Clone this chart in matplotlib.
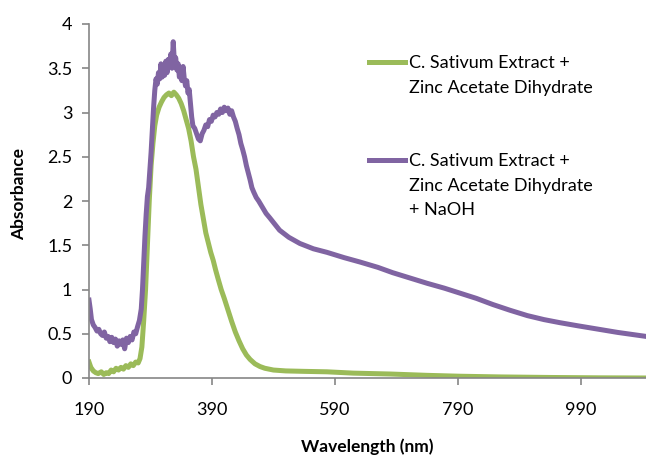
import matplotlib
matplotlib.use("Agg")
import matplotlib.pyplot as plt
from matplotlib.lines import Line2D

plt.rcParams['font.family'] = ['Lato', 'DejaVu Sans']

# green series: C. Sativum Extract + Zinc Acetate Dihydrate
wl_green = [190, 193, 197, 201, 205, 210, 214, 218, 222, 226, 230, 234, 238, 242,
            246, 250, 254, 258, 262, 266, 270, 273, 276, 279, 282, 285, 288, 291,
            294, 297, 300, 304, 308, 312, 316, 320, 324, 328, 332, 336, 340, 344,
            348, 352, 356, 360, 364, 368, 372, 376, 380, 384, 388, 392, 396, 400,
            405, 410, 416, 422, 428, 434, 440, 446, 452, 460, 468, 476, 490, 510,
            540, 577, 620, 680, 740, 793, 860, 940, 1020, 1096]
abs_green = [0.18, 0.12, 0.08, 0.06, 0.05, 0.07, 0.04, 0.06, 0.05, 0.09, 0.07, 0.11, 0.09, 0.12,
             0.10, 0.14, 0.12, 0.16, 0.14, 0.18, 0.17, 0.22, 0.35, 0.65, 1.0, 1.5, 2.0, 2.4,
             2.65, 2.85, 2.97, 3.06, 3.12, 3.17, 3.2, 3.22, 3.19, 3.23, 3.2, 3.16, 3.1, 3.02,
             2.92, 2.82, 2.68, 2.5, 2.36, 2.16, 1.96, 1.8, 1.64, 1.53, 1.42, 1.33, 1.22, 1.12,
             1.0, 0.9, 0.77, 0.64, 0.52, 0.42, 0.33, 0.26, 0.21, 0.16, 0.13, 0.11, 0.09, 0.08,
             0.075, 0.07, 0.055, 0.045, 0.03, 0.02, 0.012, 0.006, 0.002, 0.0]

# purple series: C. Sativum Extract + Zinc Acetate Dihydrate + NaOH
wl_purple = [190, 192, 194, 197, 200, 203, 206, 209, 212, 215, 218, 221, 224, 227,
             230, 233, 236, 239, 242, 245, 248, 251, 254, 257, 260, 263, 266, 269,
             272, 275, 277, 279, 281, 283, 285, 287, 289, 291, 293, 295, 297, 299,
             301, 303, 305, 307, 309, 311, 313, 315, 317, 319, 321, 323, 325, 327,
             329, 331, 333, 335, 337, 339, 341, 343, 345, 347, 349, 351, 353, 355,
             357, 359, 362, 365, 368, 371, 374, 377, 380, 383, 386, 389, 392, 395,
             398, 401, 404, 407, 410, 413, 416, 419, 422, 425, 428, 431, 434, 437,
             440, 443, 446, 449, 452, 455, 458, 462, 466, 472, 478, 484, 492, 500,
             515, 533, 555, 577, 605, 631, 660, 684, 712, 740, 768, 793, 820, 847,
             875, 903, 930, 956, 985, 1011, 1050, 1096]
abs_purple = [0.88, 0.78, 0.66, 0.6, 0.57, 0.53, 0.55, 0.5, 0.48, 0.52, 0.45, 0.47, 0.41, 0.46,
              0.40, 0.44, 0.36, 0.42, 0.38, 0.43, 0.33, 0.45, 0.40, 0.47, 0.43, 0.52, 0.5, 0.58,
              0.65, 0.78, 1.0, 1.3, 1.6, 1.85, 2.05, 2.15, 2.35, 2.55, 2.8, 3.05, 3.25, 3.38,
              3.32, 3.45, 3.38, 3.55, 3.4, 3.5, 3.42, 3.58, 3.45, 3.6, 3.52, 3.66, 3.5, 3.8,
              3.55, 3.62, 3.48, 3.55, 3.4, 3.48, 3.36, 3.52, 3.38, 3.3, 3.36, 3.22, 3.26, 3.1,
              2.95, 2.85, 2.82, 2.76, 2.7, 2.68, 2.76, 2.8, 2.86, 2.84, 2.92, 2.9, 2.97, 2.95,
              3.0, 2.98, 3.04, 3.0, 3.06, 3.02, 3.05, 2.98, 3.02, 2.95, 2.9, 2.82, 2.75, 2.65,
              2.58, 2.5, 2.4, 2.32, 2.24, 2.15, 2.1, 2.04, 2.0, 1.93, 1.86, 1.81, 1.74, 1.67,
              1.59, 1.52, 1.46, 1.42, 1.36, 1.31, 1.25, 1.19, 1.13, 1.07, 1.015, 0.96, 0.9, 0.83,
              0.765, 0.705, 0.66, 0.625, 0.59, 0.56, 0.515, 0.47]

x_ticks = [190, 390, 590, 790, 990]
y_ticks = [0, 0.5, 1, 1.5, 2, 2.5, 3, 3.5, 4]
y_ticklabels = ["0", "0.5", "1", "1.5", "2", "2.5", "3", "3.5", "4"]

legend_lines = [["C. Sativum Extract +", "Zinc Acetate Dihydrate"],
                ["C. Sativum Extract +", "Zinc Acetate Dihydrate", "+ NaOH"]]

green = "#9BBB59"
purple = "#8064A2"
axis_gray = "#868686"

fig = plt.figure(figsize=(6.46, 4.57), dpi=100)
ax = fig.add_axes([89 / 646, 1 - 378 / 457, 1 - 89 / 646, 354 / 457])

ax.plot(wl_green, abs_green, color=green, lw=3.6, solid_joinstyle='round')
ax.plot(wl_purple, abs_purple, color=purple, lw=3.6, solid_joinstyle='round')

ax.set_xlim(190, 1096)
ax.set_ylim(0, 4)
ax.set_xticks(x_ticks)
ax.set_yticks(y_ticks)
ax.set_yticklabels(y_ticklabels)

for s in ['top', 'right']:
    ax.spines[s].set_visible(False)
for s in ['left', 'bottom']:
    ax.spines[s].set_color(axis_gray)
    ax.spines[s].set_linewidth(1.2)

ax.tick_params(axis='x', length=5, width=1.2, color=axis_gray, pad=12, labelsize=13)
ax.tick_params(axis='y', length=5, width=1.2, color=axis_gray, pad=7, labelsize=13)

ax.set_xlabel("Wavelength (nm)", fontsize=12.5, fontweight='bold')
ax.set_ylabel("Absorbance", fontsize=12.5, fontweight='bold')
ax.xaxis.set_label_coords(0.5, -0.17)
ax.yaxis.set_label_coords(-0.112, 0.52)

# legend: one row per text line so the handle sits on the first line, like Excel
handles = []
labels = []
for color, lines in zip([green, purple], legend_lines):
    for i, txt in enumerate(lines):
        handles.append(Line2D([], [], color=color if i == 0 else 'none', lw=3.6))
        labels.append(txt)
    if color == green:
        for _ in range(2):
            handles.append(Line2D([], [], color='none'))
            labels.append("")

ax.legend(handles, labels, loc='upper left', bbox_to_anchor=(0.487, 0.937),
          frameon=False, fontsize=13, handlelength=2.0, handletextpad=0.2,
          labelspacing=0.47, borderpad=0)

fig.savefig("out.png", dpi=100)
